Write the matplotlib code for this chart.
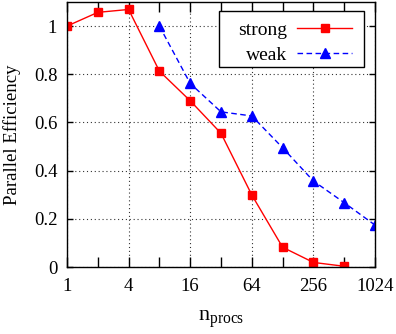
"""
efficacite parallele, strong vs weak scaling
"""
import numpy as np
import matplotlib
matplotlib.use("Agg")
from matplotlib import pyplot as plt
from matplotlib.ticker import NullFormatter
from matplotlib.patches import Rectangle

procs_strong = [1, 2, 4, 8, 16, 32, 64, 128, 256, 512]
eff_strong = [1.0, 1.057, 1.069, 0.813, 0.690, 0.555, 0.299, 0.082, 0.019, 0.003]

procs_weak = [8, 16, 32, 64, 128, 256, 512, 1024]
eff_weak = [1.0, 0.762, 0.644, 0.627, 0.495, 0.357, 0.267, 0.174]

xticks = [1, 4, 16, 64, 256, 1024]
xtick_labels = ["1", "4", "16", "64", "256", "1024"]
yticks = [0, 0.2, 0.4, 0.6, 0.8, 1.0]
ytick_labels = ["0", "0.2", "0.4", "0.6", "0.8", "1"]

plt.rcParams['font.family'] = ['Liberation Serif', 'DejaVu Serif']
plt.rcParams['mathtext.fontset'] = 'custom'
plt.rcParams['mathtext.rm'] = 'Liberation Serif'
plt.rcParams['mathtext.it'] = 'Liberation Serif:italic'

fig = plt.figure(figsize=(3.96, 3.34), dpi=100)
ax = fig.add_axes([67/396, 67/334, 308/396, 265/334])

ax.plot(procs_strong, eff_strong, '-', color='red', lw=1, marker='s',
        ms=6, label='strong')
ax.plot(procs_weak, eff_weak, '--', color='blue', lw=1, marker='^',
        ms=6.5, dashes=(4, 2.5), label='weak')

ax.set_xscale('log', base=2)
ax.set_xlim(1, 1024)
ax.set_ylim(0, 1.1)

# ticks mineurs a chaque puissance de 2, grille seulement sur les labels
ax.set_xticks([2 ** k for k in range(11)], minor=True)
ax.xaxis.set_minor_formatter(NullFormatter())
ax.set_xticks(xticks)
ax.set_xticklabels(xtick_labels)
ax.set_yticks(yticks)
ax.set_yticklabels(ytick_labels)
ax.tick_params(which='both', direction='in', top=True, right=True,
               labelsize=13.5, width=1, color='black')
ax.tick_params(axis='x', which='both', length=7, pad=8)
ax.tick_params(axis='y', length=4, pad=7)
ax.grid(True, which='major', linestyle=(0, (1, 2.5)), color='black',
        lw=0.8, alpha=0.8)
for s in ax.spines.values():
    s.set_linewidth(1)

ax.set_ylabel('Parallel Efficiency', fontsize=13.5, labelpad=9)
ax.set_xlabel(r'n$_{\mathrm{procs}}$', fontsize=16, labelpad=10)

# cadre de legende facon gnuplot
ax.add_patch(Rectangle((0.4935, 0.755), 0.4705, 0.211, transform=ax.transAxes,
                       facecolor='white', edgecolor='black', lw=1, zorder=4))
leg = ax.legend(loc='upper right', markerfirst=False, fontsize=14,
                frameon=False, handlelength=2.8, handletextpad=0.55,
                borderpad=0, borderaxespad=0, labelspacing=0.38,
                bbox_to_anchor=(0.925, 0.927))
leg.set_zorder(5)

fig.savefig('out.png', dpi=100)
